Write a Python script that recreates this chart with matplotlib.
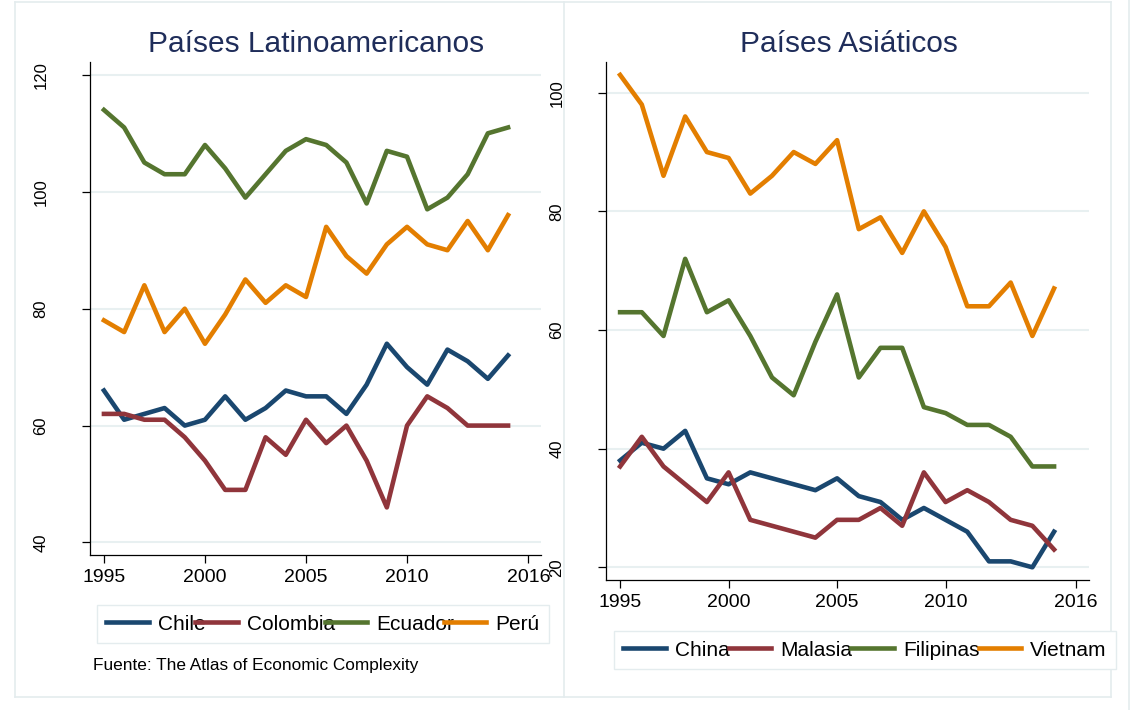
import matplotlib.pyplot as plt
from matplotlib.lines import Line2D

plt.rcParams['font.family'] = ['Liberation Sans', 'DejaVu Sans']

W, H = 1135, 710

years = list(range(1995, 2016))

# Países latinoamericanos
chile = [66, 61, 62, 63, 60, 61, 65, 61, 63, 66, 65, 65, 62, 67, 74, 70, 67, 73, 71, 68, 72]
colombia = [62, 62, 61, 61, 58, 54, 49, 49, 58, 55, 61, 57, 60, 54, 46, 60, 65, 63, 60, 60, 60]
ecuador = [114, 111, 105, 103, 103, 108, 104, 99, 103, 107, 109, 108, 105, 98, 107, 106, 97, 99, 103, 110, 111]
peru = [78, 76, 84, 76, 80, 74, 79, 85, 81, 84, 82, 94, 89, 86, 91, 94, 91, 90, 95, 90, 96]
latam_names = ['Chile', 'Colombia', 'Ecuador', 'Perú']

# Países asiáticos
china = [38, 41, 40, 43, 35, 34, 36, 35, 34, 33, 35, 32, 31, 28, 30, 28, 26, 21, 21, 20, 26]
malasia = [37, 42, 37, 34, 31, 36, 28, 27, 26, 25, 28, 28, 30, 27, 36, 31, 33, 31, 28, 27, 23]
filipinas = [63, 63, 59, 72, 63, 65, 59, 52, 49, 58, 66, 52, 57, 57, 47, 46, 44, 44, 42, 37, 37]
vietnam = [103, 98, 86, 96, 90, 89, 83, 86, 90, 88, 92, 77, 79, 73, 80, 74, 64, 64, 68, 59, 67]
asia_names = ['China', 'Malasia', 'Filipinas', 'Vietnam']

xticks = [1995, 2000, 2005, 2010, 2016]
latam_yticks = [40, 60, 80, 100, 120]
asia_yticks = [20, 40, 60, 80, 100]

colors = ['#1a476f', '#90353b', '#55752f', '#e37e00']
grid_col = '#e8f0f1'
frame_col = '#e4ecee'
title_col = '#1f2d5a'


def px_rect(x0, y0, x1, y1):
    # pixel box (from top-left) -> figure fractions
    return [x0 / W, 1 - y1 / H, (x1 - x0) / W, (y1 - y0) / H]


def draw_panel(ax, series, names, yticks, xlim, ylim):
    for vals, name, col in zip(series, names, colors):
        ax.plot(years, vals, color=col, lw=3.3, label=name)
    ax.set_xlim(*xlim)
    ax.set_ylim(*ylim)
    ax.set_xticks(xticks)
    ax.set_yticks(yticks)
    ax.grid(axis='y', color=grid_col, lw=1.5)
    ax.set_axisbelow(True)
    ax.spines['top'].set_visible(False)
    ax.spines['right'].set_visible(False)
    ax.spines['left'].set_linewidth(0.9)
    ax.spines['bottom'].set_linewidth(0.9)
    ax.tick_params(axis='x', length=6, width=0.9, labelsize=14, pad=4)
    ax.tick_params(axis='y', length=6, width=0.9, labelsize=12, pad=24)
    for lab in ax.get_yticklabels():
        lab.set_rotation(90)
        lab.set_va('center')
        lab.set_ha('right')


fig = plt.figure(figsize=(W / 100, H / 100), dpi=100)

ax1 = fig.add_axes(px_rect(90, 62, 541, 555))
draw_panel(ax1, [chile, colombia, ecuador, peru], latam_names, latam_yticks,
           (1994.31, 2016.63), (37.86, 122.2))

ax2 = fig.add_axes(px_rect(606, 62, 1089, 580))
draw_panel(ax2, [china, malasia, filipinas, vietnam], asia_names, asia_yticks,
           (1994.35, 2016.61), (17.86, 105.18))

# titles
fig.text(316.5 / W, 1 - 52 / H, 'Países Latinoamericanos', ha='center', va='baseline',
         fontsize=21.5, color=title_col)
fig.text(849 / W, 1 - 52 / H, 'Países Asiáticos', ha='center', va='baseline',
         fontsize=21.5, color=title_col)

# legends
leg_kw = dict(ncol=4, fontsize=15, handlelength=2.05, handletextpad=0.43,
              borderaxespad=0, fancybox=False, edgecolor=frame_col, framealpha=1,
              borderpad=0.45)
h1, l1 = ax1.get_legend_handles_labels()
leg1 = fig.legend(h1, l1, loc='center left', bbox_to_anchor=(97 / W, 1 - 624 / H),
                  columnspacing=-0.5, **leg_kw)
h2, l2 = ax2.get_legend_handles_labels()
leg2 = fig.legend(h2, l2, loc='center left', bbox_to_anchor=(614 / W, 1 - 650 / H),
                  columnspacing=-0.05, **leg_kw)
for leg in (leg1, leg2):
    leg.get_frame().set_linewidth(1.0)

fig.text(93 / W, 1 - 670 / H, 'Fuente: The Atlas of Economic Complexity', fontsize=12.4,
         va='baseline')

# outer borders of the two graphs
for xs, ys in [([15, 1111], [2, 2]), ([15, 1111], [697, 697]), ([15, 15], [2, 697]),
               ([564, 564], [2, 697]), ([1111, 1111], [2, 697]), ([1129, 1129], [0, 710])]:
    fig.add_artist(Line2D([x / W for x in xs], [1 - y / H for y in ys],
                          color=frame_col, lw=1.2))

fig.savefig('out.png', dpi=100)
